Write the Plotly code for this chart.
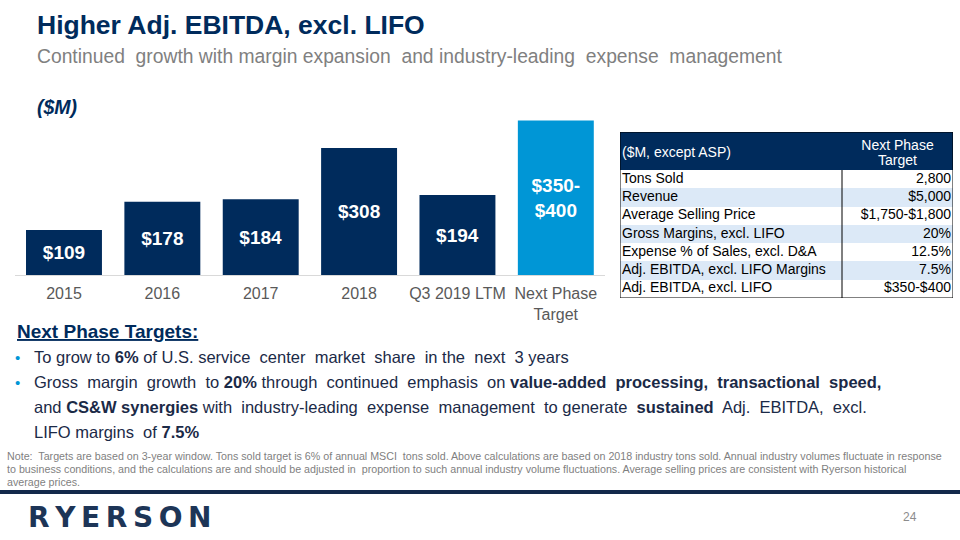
import plotly.graph_objects as go

# ---------------- data ----------------
categories = ["2015", "2016", "2017", "2018", "Q3 2019 LTM", "Next Phase<br>Target"]
ebitda_values = [109, 178, 184, 308, 194, 375]   # last = drawn height of the $350-$400 target bar
bar_labels = ["$109", "$178", "$184", "$308", "$194", "$350-<br>$400"]

table_header = ["($M, except ASP)", "Next Phase<br>Target"]
table_metrics = ["Tons Sold", "Revenue", "Average Selling Price", "Gross Margins, excl. LIFO",
                 "Expense % of Sales, excl. D&A", "Adj. EBITDA, excl. LIFO Margins", "Adj. EBITDA, excl. LIFO"]
table_targets = ["2,800", "$5,000", "$1,750-$1,800", "20%", "12.5%", "7.5%", "$350-$400"]

NAVY = "#002B5C"
LIGHT = "#0096D6"
ROWBLUE = "#DCE9F7"
FONT = "Arial, Liberation Sans, sans-serif"
W, H = 960, 540

bar_colors = [NAVY] * 5 + [LIGHT]

fig = go.Figure()
fig.add_trace(go.Bar(
    x=categories, y=ebitda_values, marker=dict(color=bar_colors, line=dict(width=0)),
    text=bar_labels, texttemplate="%{text}", textposition="inside", insidetextanchor="middle",
    textangle=0, constraintext="none",
    textfont=dict(family=FONT, size=19, color="white", weight="bold"),
    hoverinfo="skip", showlegend=False,
))

# ---------------- table (heatmap fills + text on its own axes) ----------------
col_edges = [0, 222, 333]
header_h = 38
row_h = 128 / len(table_metrics)
row_edges = [0, header_h] + [header_h + row_h * (i + 1) for i in range(len(table_metrics))]
row_centers = [header_h + row_h * (i + 0.5) for i in range(len(table_metrics))]
z = [[2, 2]] + [[i % 2, i % 2] for i in range(len(table_metrics))]

fig.add_trace(go.Heatmap(
    x=col_edges, y=row_edges, z=z, xaxis="x2", yaxis="y2",
    zmin=0, zmax=2, colorscale=[[0, "white"], [0.5, ROWBLUE], [1, NAVY]],
    showscale=False, hoverinfo="skip",
))
fig.add_trace(go.Scatter(
    x=[2] * len(table_metrics), y=row_centers, text=table_metrics, mode="text",
    textposition="middle right", xaxis="x2", yaxis="y2", hoverinfo="skip", showlegend=False,
    textfont=dict(family=FONT, size=14, color="black"),
))
fig.add_trace(go.Scatter(
    x=[331] * len(table_targets), y=row_centers, text=table_targets, mode="text",
    textposition="middle left", xaxis="x2", yaxis="y2", hoverinfo="skip", showlegend=False,
    textfont=dict(family=FONT, size=14, color="black"),
))
# header: left title, and the two lines of the right header set tightly
hdr_right = table_header[1].split("<br>")
hdr_x = [2] + [(col_edges[1] + col_edges[2]) / 2] * len(hdr_right)
hdr_y = [21, 14, 29]
fig.add_trace(go.Scatter(
    x=hdr_x, y=hdr_y, text=[table_header[0]] + hdr_right,
    mode="text", textposition=["middle right", "middle center", "middle center"],
    xaxis="x2", yaxis="y2", hoverinfo="skip", showlegend=False,
    textfont=dict(family=FONT, size=14, color="white"),
))

# ---------------- layout ----------------
x0, x1 = 14.8 / W, 605 / W
fig.update_layout(
    width=W, height=H, margin=dict(l=0, r=0, t=0, b=0),
    paper_bgcolor="white", plot_bgcolor="rgba(0,0,0,0)",
    bargap=0.228,
    xaxis=dict(domain=[x0, x1], showline=True, linecolor="#D9D9D9", linewidth=1, fixedrange=True,
               ticks="", showgrid=False, ticklabelstandoff=4,
               tickfont=dict(family=FONT, size=16, color="#595959")),
    yaxis=dict(domain=[1 - 275 / H, 1 - 110.2 / H], range=[0, 400], visible=False, fixedrange=True),
    xaxis2=dict(domain=[620 / W, 953 / W], range=[0, 333], visible=False, anchor="y2", fixedrange=True),
    yaxis2=dict(domain=[1 - 298 / H, 1 - 132 / H], range=[166, 0], visible=False, anchor="x2", fixedrange=True),
    font=dict(family=FONT),
)

# Table frame
fig.add_shape(type="rect", xref="x2", yref="y2", x0=0, x1=333, y0=0, y1=166,
              line=dict(color="black", width=1))
fig.add_shape(type="line", xref="x2", yref="y2", x0=222, x1=222, y0=header_h, y1=166,
              line=dict(color="black", width=1))


def ann(x, y, text, size, color, xanchor="left", yanchor="middle", family=FONT, **kw):
    fig.add_annotation(x=x / W, y=1 - y / H, xref="paper", yref="paper", text=text,
                       showarrow=False, xanchor=xanchor, yanchor=yanchor,
                       font=dict(family=family, size=size, color=color, **kw))


# Title block
ann(35, 25, "<b>Higher Adj. EBITDA, excl. LIFO</b>", 26.5, NAVY)
ann(35, 57, "Continued  growth with margin expansion  and industry-leading  expense  management", 19.3, "#808080")
ann(35, 107, "<b><i>($M)</i></b>", 19.5, NAVY)

# Bullets
TXT = "#1B2A47"
ann(15, 331, "<b>Next Phase Targets:</b>", 19, NAVY, lineposition="under")
for yy in [357, 382]:
    ann(13, yy, "•", 15, LIGHT)
ann(32, 357, "To grow to <b>6%</b> of U.S. service  center  market  share  in the  next  3 years", 16.5, TXT)
ann(32, 382, "Gross  margin  growth  to <b>20%</b> through  continued  emphasis  on <b>value-added  processing,  transactional  speed,</b>", 16.5, TXT)
ann(32, 407, "and <b>CS&W synergies</b> with  industry-leading  expense  management  to generate  <b>sustained</b>  Adj.  EBITDA,  excl.", 16.5, TXT)
ann(32, 432, "LIFO margins  of <b>7.5%</b>", 16.5, TXT)

# Note
note_lines = [
    "Note:  Targets are based on 3-year window. Tons sold target is 6% of annual MSCI  tons sold. Above calculations are based on 2018 industry tons sold. Annual industry volumes fluctuate in response",
    "to business conditions, and the calculations are and should be adjusted in  proportion to such annual industry volume fluctuations. Average selling prices are consistent with Ryerson historical",
    "average prices.",
]
for i, ln in enumerate(note_lines):
    ann(5, 456 + 13 * i, ln, 10.7, "#7F7F7F")

# Footer
fig.add_shape(type="line", xref="paper", yref="paper", x0=0, x1=1, y0=1 - 492 / H, y1=1 - 492 / H,
              line=dict(color="#13294B", width=4))
ann(26, 517, "<b>R\u2009Y\u2009E\u2009R\u2009S\u2009O\u2009N</b>", 28, "#1D3557", family="DejaVu Sans")
ann(919, 517, "24", 12, "#8C8C8C", xanchor="right")

fig.write_html("out.html", post_script="document.body.style.margin='0px';",
               config={"displayModeBar": False})
